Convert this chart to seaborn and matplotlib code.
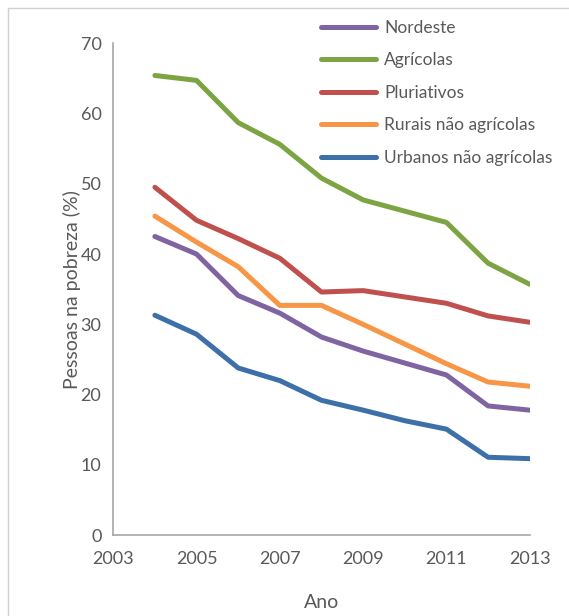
import pandas as pd
import seaborn as sns
import matplotlib.pyplot as plt
from matplotlib.lines import Line2D

# --- Data ---
years = [2004, 2005, 2006, 2007, 2008, 2009, 2010, 2011, 2012, 2013]
nordeste = [42.5, 40.0, 34.1, 31.6, 28.2, 26.2, 24.5, 22.8, 18.4, 17.8]
agricolas = [65.4, 64.7, 58.7, 55.6, 50.8, 47.7, 46.1, 44.5, 38.7, 35.7]
pluriativos = [49.5, 44.8, 42.2, 39.4, 34.6, 34.8, 33.9, 33.0, 31.2, 30.3]
rurais_nao_agr = [45.4, 41.7, 38.2, 32.7, 32.7, 30.0, 27.2, 24.4, 21.8, 21.2]
urbanos_nao_agr = [31.3, 28.6, 23.8, 22.0, 19.2, 17.8, 16.3, 15.1, 11.1, 10.9]

series = {
    "Nordeste": nordeste,
    "Agrícolas": agricolas,
    "Pluriativos": pluriativos,
    "Rurais não agrícolas": rurais_nao_agr,
    "Urbanos não agrícolas": urbanos_nao_agr,
}
colors = ["#8064A2", "#7DA443", "#C0504D", "#F79646", "#3D6FA8"]

df = pd.DataFrame(
    [(y, name, v) for name, vals in series.items() for y, v in zip(years, vals)],
    columns=["Ano", "Grupo", "Valor"],
)

sns.set_style("white")
plt.rcParams["font.family"] = ["Lato", "DejaVu Sans"]
grey = "#595959"
spine = "#A6A6A6"

fig = plt.figure(figsize=(5.69, 6.16), dpi=100)
ax = fig.add_axes([0.199, 0.131, 0.732, 0.799])

sns.lineplot(data=df, x="Ano", y="Valor", hue="Grupo",
             hue_order=list(series.keys()), palette=colors,
             linewidth=3.6, ax=ax, legend=False)

ax.set_xlim(2003, 2013)
ax.set_ylim(0, 70)
ax.set_xticks(range(2003, 2014, 2))
ax.set_yticks(range(0, 71, 10))
ax.set_xlabel("Ano", fontsize=14, color=grey, labelpad=20)
ax.set_ylabel("Pessoas na pobreza (%)", fontsize=14, color=grey, labelpad=0)
ax.tick_params(axis="both", labelsize=13, colors=grey, length=5,
               width=1, direction="out", color=spine)
ax.tick_params(axis="x", pad=6)
for s in ["top", "right"]:
    ax.spines[s].set_visible(False)
for s in ["left", "bottom"]:
    ax.spines[s].set_color(spine)
    ax.spines[s].set_linewidth(1.2)

handles = [Line2D([0], [0], color=c, lw=3.6) for c in colors]
fig.legend(handles, list(series.keys()), loc="upper left",
           bbox_to_anchor=(0.545, 0.985), frameon=False, fontsize=12.5,
           handlelength=3.2, handletextpad=0.45, labelspacing=0.95,
           labelcolor=grey, borderaxespad=0.2)

# thin frame lines at the image edge
fig.add_artist(Line2D([8 / 569, 8 / 569], [0, 1 - 8 / 616], color="#D0D0D0", lw=1))
fig.add_artist(Line2D([8 / 569, 1], [1 - 8 / 616, 1 - 8 / 616], color="#D0D0D0", lw=1))

fig.savefig("out.png", dpi=100)
plt.close(fig)
